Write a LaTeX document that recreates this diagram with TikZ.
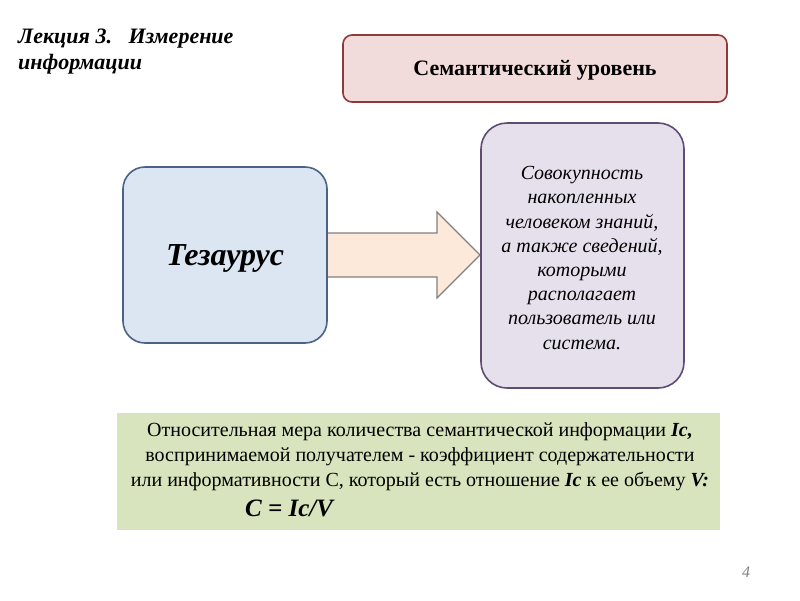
\documentclass[tikz,border=0pt]{standalone}
\usepackage{fontspec}
\setmainfont{Liberation Serif}
\usetikzlibrary{shapes.arrows}
\definecolor{pinkfill}{HTML}{F2DCDB}
\definecolor{pinkdraw}{HTML}{8C3A3A}
\definecolor{bluefill}{HTML}{DCE6F2}
\definecolor{bluedraw}{HTML}{4A6285}
\definecolor{arrowfill}{HTML}{FDE9D9}
\definecolor{arrowdraw}{HTML}{808080}
\definecolor{lilacfill}{HTML}{E6E0EC}
\definecolor{lilacdraw}{HTML}{5E4C73}
\definecolor{greenfill}{HTML}{D7E4BD}
\tikzset{
  box/.style={rounded corners=#1, line width=1.6pt},
  txt/.style={inner sep=0pt, align=center},
}
\begin{document}
\begin{tikzpicture}[x=1pt,y=-1pt]
\useasboundingbox (0,0) rectangle (800,600);
\fill[white] (0,0) rectangle (800,600);
% title
\node[txt, anchor=north west, align=left, font=\fontsize{22}{26}\selectfont\bfseries\itshape] (title) at (18,29) {Лекция 3.\ \ \ Измерение\\информации};
% top box
\draw[box=9pt, fill=pinkfill, draw=pinkdraw] (343,35) rectangle (727,102);
\node[txt, font=\fontsize{22}{26}\selectfont\bfseries] (sem) at (535,70) {Семантический уровень};
% arrow
\draw[fill=arrowfill, draw=arrowdraw, line width=1.2pt, line join=miter]
  (327,233) -- (437,233) -- (437,212) -- (480,255) -- (437,298) -- (437,277) -- (327,277) -- cycle;
% left box
\draw[box=22pt, fill=bluefill, draw=bluedraw] (123,167) rectangle (327,343);
\node[txt, font=\fontsize{32}{36}\selectfont\bfseries\itshape] (tez) at (225,258) {Тезаурус};
% right box
\draw[box=26pt, fill=lilacfill, draw=lilacdraw] (481,123) rectangle (684,388);
\node[txt, font=\fontsize{20}{24.2}\selectfont\itshape] (def) at (582,258) {Совокупность\\накопленных\\человеком знаний,\\а также сведений,\\которыми\\располагает\\пользователь или\\система.};
% green box
\fill[greenfill] (117,413) rectangle (720,530);
\node[txt, font=\fontsize{20}{25}\selectfont] (rel) at (420,457) {Относительная мера количества семантической информации \textbf{\textit{Ic,}}\\воспринимаемой получателем - коэффициент содержательности\\или информативности С, который есть отношение \textbf{\textit{Ic}} к ее объему \textbf{\textit{V:}}};
\node[txt, anchor=west, font=\fontsize{25}{28}\selectfont\bfseries\itshape] (form) at (245,508) {C = Ic/V};
% page number
\node[txt, font=\fontsize{16}{18}\selectfont\itshape, text=gray] (pg) at (746,572) {4};
\end{tikzpicture}
\end{document}
